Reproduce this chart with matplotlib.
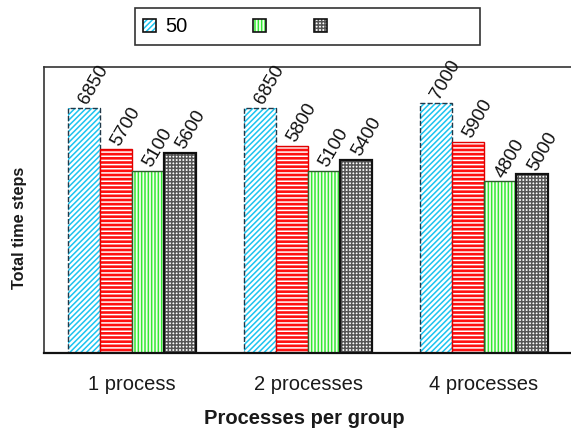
# grouped bar chart: total time steps per number of processes in a group

import matplotlib
matplotlib.use("Agg")
import matplotlib.pyplot as plt
from matplotlib.patches import Patch, Rectangle
import numpy as np

plt.rcParams["font.family"] = ["Liberation Sans", "DejaVu Sans"]
plt.rcParams["hatch.linewidth"] = 1.1

# data
groups = ["1 process", "2 processes", "4 processes"]
series_names = ["50", "", "", ""]
blue_vals = [6850, 6850, 7000]
red_vals = [5700, 5800, 5900]
green_vals = [5100, 5100, 4800]
grey_vals = [5600, 5400, 5000]

# (face colour, hatch colour, hatch pattern, outline colour, outline style, outline width)
styles = [
    ("white", "#1CC4F0", "//////", "#203848", "--", 1.0),
    ("#FF1010", "white", "----", "#E00000", "-", 1.0),
    ("#F4FFF0", "#33E833", "|||||", "#2E5E2E", "-", 1.0),
    ("white", "#555555", "+++++", "#111111", "-", 1.6),
]

fig = plt.figure(figsize=(5.71, 4.32), dpi=100)
ax = fig.add_axes([44 / 571, 79 / 432, 528 / 571, 286 / 432])

x = np.arange(len(groups))
width = 0.183
all_vals = [blue_vals, red_vals, green_vals, grey_vals]

handles = []
for i, (vals, st) in enumerate(zip(all_vals, styles)):
    face, hcol, hatch, ecol, ls, lw = st
    pos = x + (i - 1.5) * width
    # hatched fill, then the outline on top
    ax.bar(pos, vals, width, color=face, edgecolor=hcol, hatch=hatch, linewidth=0)
    bars = ax.bar(pos, vals, width, fill=False, edgecolor=ecol, linestyle=ls, linewidth=lw)
    for b, v in zip(bars, vals):
        ax.annotate(str(v), (b.get_x() + b.get_width() / 2, v),
                    xytext=(5, 0.5), textcoords="offset points",
                    rotation=60, rotation_mode="anchor", ha="left", va="bottom",
                    fontsize=13.5, color="#111111")
    fill = Patch(facecolor=face, edgecolor=hcol, hatch=hatch, linewidth=0)
    frame = Patch(fill=False, edgecolor="#111111", linewidth=1.2)
    handles.append((fill, frame))

ax.set_xlim(-0.5, 2.5)
ax.set_ylim(0, 8000)
ax.set_xticks(x)
ax.set_xticklabels(groups, fontsize=14.5, color="#1a1a1a")
ax.set_yticks([])
ax.tick_params(axis="x", length=0, pad=16)
for side in ["left", "top"]:
    ax.spines[side].set_color("#333333")
    ax.spines[side].set_linewidth(1.2)
ax.spines["bottom"].set_color("#111111")
ax.spines["bottom"].set_linewidth(1.6)
ax.spines["right"].set_visible(False)

fig.text(304 / 571, 1 - 419 / 432, "Processes per group", ha="center", va="center",
         fontsize=14.5, fontweight="bold", color="#1a1a1a")
fig.text(20 / 571, 1 - 228 / 432, "Total time steps", ha="center", va="center",
         rotation=90, fontsize=11.7, fontweight="bold", color="#1a1a1a")

# legend: framed box with the blue, green and grey entries
fig.patches.append(Rectangle((135 / 571, 1 - 45 / 432), 345 / 571, 37 / 432,
                             transform=fig.transFigure, fill=False,
                             edgecolor="#333333", linewidth=1.2))
legend_items = [(0, 143), (2, 253), (3, 314)]
for idx, xpix in legend_items:
    fig.legend([handles[idx]], [series_names[idx]], loc="center left",
               bbox_to_anchor=(xpix / 571, 1 - 27 / 432), frameon=False,
               fontsize=14.5, handlelength=0.66, handleheight=0.66,
               handletextpad=0.45, borderpad=0, borderaxespad=0)

fig.savefig("out.png", dpi=100)
